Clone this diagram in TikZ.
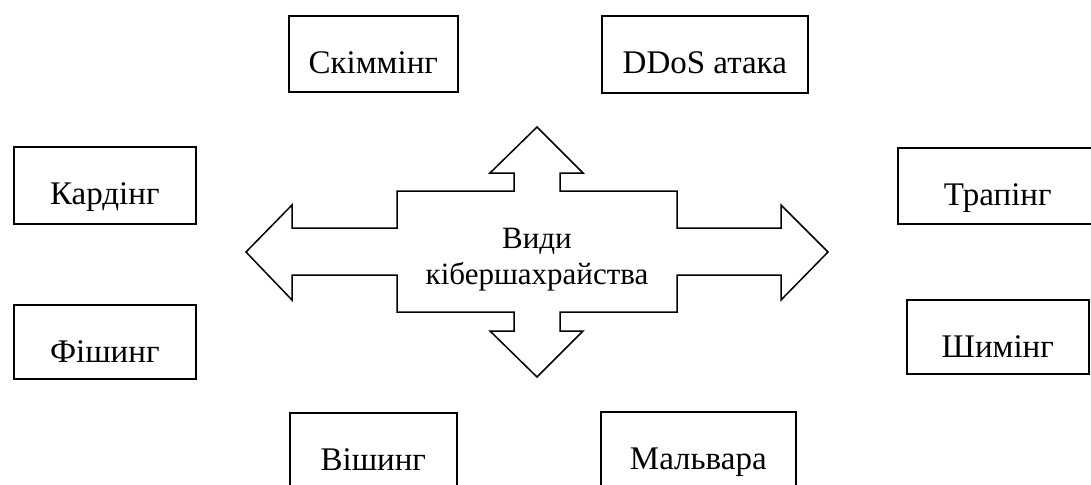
\documentclass[tikz,border=0pt]{standalone}
\usepackage{fontspec}
\setmainfont{Liberation Serif}
\usetikzlibrary{positioning}
\tikzset{
  kind/.style={draw,line width=1.6pt,inner sep=0pt,anchor=north west,
    font=\fontsize{33}{38}\selectfont,text height=58pt},
  cross/.style={draw,line width=1.5pt,line join=miter}
}

\begin{document}
\begin{tikzpicture}[x=1pt,y=-1pt]
\useasboundingbox (0,0) rectangle (1091,484);
\node[kind,minimum width=169pt,minimum height=76pt,text depth=18pt] (skim) at (288,15) {Скіммінг};
\node[kind,minimum width=206pt,minimum height=77pt,text depth=19pt] (ddos) at (601,15) {DDoS атака};
\node[kind,minimum width=182pt,minimum height=77pt,text depth=19pt] (kard) at (13,146) {Кардінг};
\node[kind,minimum width=182pt,minimum height=74pt,text depth=16pt] (fish) at (13,304) {Фішинг};
\node[kind,minimum width=200pt,minimum height=76pt,text depth=18pt] (trap) at (897,147) {Трапінг};
\node[kind,minimum width=182pt,minimum height=74pt,text depth=16pt] (shym) at (906,299) {Шимінг};
\node[kind,minimum width=167pt,minimum height=80pt,text depth=22pt] (vish) at (289,412) {Вішинг};
\node[kind,minimum width=195pt,minimum height=80pt,text depth=22pt] (malv) at (600,411) {Мальвара};
\begin{scope}[shift={(537,252)}]
\draw[cross] (-291,0) -- (-245,-47) -- (-245,-24) -- (-140,-24) -- (-140,-61)
  -- (-23,-61) -- (-23,-79) -- (-47,-79) -- (0,-125) -- (46,-79) -- (23,-79)
  -- (23,-61) -- (140,-61) -- (140,-24) -- (244,-24) -- (244,-47) -- (291,0)
  -- (244,48) -- (244,23) -- (140,23) -- (140,60) -- (23,60) -- (23,79)
  -- (46,79) -- (0,125) -- (-47,79) -- (-23,79) -- (-23,60) -- (-140,60)
  -- (-140,23) -- (-245,23) -- (-245,48) -- cycle;
\node[align=center,font=\fontsize{31}{36}\selectfont] (types) at (0,8) {Види\\кібершахрайства};
\end{scope}
\end{tikzpicture}
\end{document}
